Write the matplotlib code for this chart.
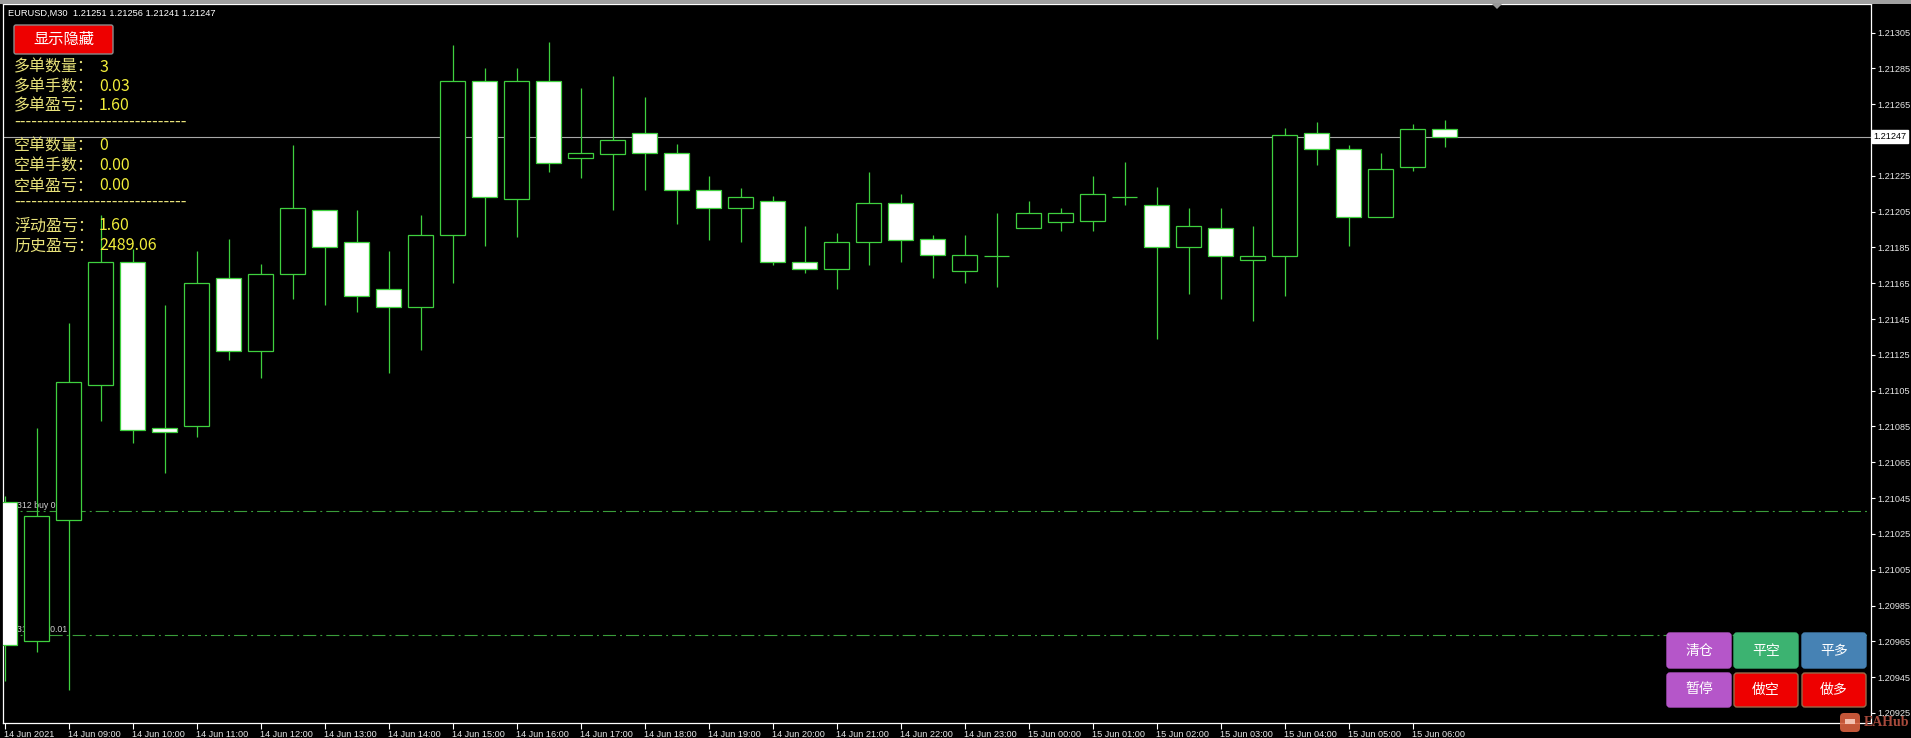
import matplotlib
matplotlib.use("Agg")
import matplotlib.pyplot as plt
import matplotlib.transforms as mtransforms
from matplotlib.patches import FancyBboxPatch, Rectangle, Polygon
import numpy as np

plt.rcParams['font.family'] = ['Liberation Sans', 'DejaVu Sans']
plt.rcParams['lines.scale_dashes'] = False

# ---------------- data ----------------
symbol_title = "EURUSD,M30  1.21251 1.21256 1.21241 1.21247"
opens = [1.21043, 1.20965, 1.21033, 1.21108, 1.21177, 1.21084, 1.21085, 1.21168, 1.21127, 1.21170,
         1.21206, 1.21188, 1.21162, 1.21152, 1.21192, 1.21278, 1.21212, 1.21278, 1.21235, 1.21237,
         1.21249, 1.21238, 1.21217, 1.21207, 1.21211, 1.21177, 1.21173, 1.21188, 1.21210, 1.21190,
         1.21172, 1.21180, 1.21196, 1.21199, 1.21200, 1.21213, 1.21209, 1.21185, 1.21196, 1.21178,
         1.21180, 1.21249, 1.21240, 1.21202, 1.21230, 1.21251]
highs = [1.21046, 1.21084, 1.21143, 1.21203, 1.21184, 1.21153, 1.21183, 1.21190, 1.21176, 1.21242,
         1.21206, 1.21206, 1.21183, 1.21203, 1.21298, 1.21285, 1.21285, 1.21300, 1.21274, 1.21281,
         1.21269, 1.21243, 1.21225, 1.21218, 1.21214, 1.21197, 1.21193, 1.21227, 1.21215, 1.21192,
         1.21192, 1.21204, 1.21211, 1.21207, 1.21225, 1.21233, 1.21219, 1.21207, 1.21207, 1.21197,
         1.21252, 1.21255, 1.21242, 1.21238, 1.21254, 1.21256]
lows = [1.20943, 1.20959, 1.20938, 1.21088, 1.21076, 1.21059, 1.21079, 1.21122, 1.21112, 1.21156,
        1.21153, 1.21149, 1.21115, 1.21128, 1.21165, 1.21186, 1.21191, 1.21227, 1.21224, 1.21206,
        1.21217, 1.21198, 1.21189, 1.21188, 1.21175, 1.21171, 1.21162, 1.21175, 1.21177, 1.21168,
        1.21165, 1.21163, 1.21196, 1.21194, 1.21194, 1.21209, 1.21134, 1.21159, 1.21156, 1.21144,
        1.21158, 1.21231, 1.21186, 1.21202, 1.21228, 1.21241]
closes = [1.20963, 1.21035, 1.21110, 1.21177, 1.21083, 1.21082, 1.21165, 1.21127, 1.21170, 1.21207,
          1.21185, 1.21158, 1.21152, 1.21192, 1.21278, 1.21213, 1.21278, 1.21232, 1.21238, 1.21245,
          1.21238, 1.21217, 1.21207, 1.21213, 1.21177, 1.21173, 1.21188, 1.21210, 1.21189, 1.21181,
          1.21181, 1.21180, 1.21204, 1.21204, 1.21215, 1.21213, 1.21185, 1.21197, 1.21180, 1.21180,
          1.21248, 1.21240, 1.21202, 1.21229, 1.21251, 1.21247]

x_tick_bars = list(range(0, 46, 2))
x_tick_labels = ["14 Jun 2021", "14 Jun 09:00", "14 Jun 10:00", "14 Jun 11:00", "14 Jun 12:00",
                 "14 Jun 13:00", "14 Jun 14:00", "14 Jun 15:00", "14 Jun 16:00", "14 Jun 17:00",
                 "14 Jun 18:00", "14 Jun 19:00", "14 Jun 20:00", "14 Jun 21:00", "14 Jun 22:00",
                 "14 Jun 23:00", "15 Jun 00:00", "15 Jun 01:00", "15 Jun 02:00", "15 Jun 03:00",
                 "15 Jun 04:00", "15 Jun 05:00", "15 Jun 06:00"]
y_ticks = [1.20925, 1.20945, 1.20965, 1.20985, 1.21005, 1.21025, 1.21045, 1.21065, 1.21085, 1.21105,
           1.21125, 1.21145, 1.21165, 1.21185, 1.21205, 1.21225, 1.21245, 1.21265, 1.21285, 1.21305]
bid_price = 1.21247
trade_prices = [1.21038, 1.209685]
trade_labels = ["312 buy 0.01", "311 buy 0.01"]

panel_labels = ["多单数量：", "多单手数：", "多单盈亏：", "空单数量：", "空单手数：", "空单盈亏：", "浮动盈亏：", "历史盈亏："]
panel_values = ["3", "0.03", "1.60", "0", "0.00", "0.00", "1.60", "2489.06"]
panel_separator = "------------------------------"
toggle_button = "显示隐藏"
buttons = [["清仓", "平空", "平多"], ["暂停", "做空", "做多"]]
button_colors = [["#b556c9", "#3cb371", "#4682b4"], ["#b556c9", "#ee0000", "#ee0000"]]

# ---------------- figure ----------------
W, H = 1911, 738
fig = plt.figure(figsize=(W / 100, H / 100), dpi=100, facecolor='black')
px = mtransforms.Affine2D().scale(1.0 / W, 1.0 / H) + fig.transFigure  # pixel coords, origin bottom-left

def Y(y):
    return H - y

ax = fig.add_axes([3 / W, (H - 723) / H, (1871 - 3) / W, (723 - 4) / H])
ax.set_facecolor('black')
ax.set_xlim((3 - 4.5) / 32, (1871 - 4.5) / 32)
ax.set_ylim(1.2091936, 1.2132103)

GREEN = '#3fd03f'
x = np.arange(len(opens))
o = np.array(opens); c = np.array(closes)
fills = ['white' if cc < oo else 'black' for oo, cc in zip(o, c)]

# bid line and trade lines (behind candles)
ax.axhline(bid_price, color='#a8a8a8', lw=0.8, zorder=1)
for tp, tl in zip(trade_prices, trade_labels):
    ax.axhline(tp, color='#3a9d3a', lw=0.8, linestyle=(0, (9.4, 2.9, 1.4, 2.9)), zorder=1)
    ax.text(0.38, tp + 0.000006, tl, fontsize=6.3, color='#d0d0d0', ha='left', va='bottom', zorder=2)

ax.vlines(x, lows, highs, colors=GREEN, lw=0.9, zorder=3)
ax.bar(x, c - o, bottom=o, width=0.76, color=fills, edgecolor=GREEN, linewidth=0.9, zorder=4)

# axes styling
for s in ax.spines.values():
    s.set_color('white'); s.set_linewidth(0.9)
ax.yaxis.tick_right()
ax.set_yticks(y_ticks)
# the 1.21245 label sits under the bid price box, so it is left blank
ax.set_yticklabels(["" if abs(v - 1.21245) < 1e-9 else f"{v:.5f}" for v in y_ticks])
ax.tick_params(axis='y', colors='white', labelcolor='#e6e6e6', length=3, width=0.8, pad=1.5, labelsize=6.6)
ax.set_xticks(x_tick_bars)
ax.set_xticklabels(x_tick_labels, ha='left')
ax.tick_params(axis='x', colors='white', labelcolor='#e6e6e6', length=4, width=0.8, pad=1.2, labelsize=6.6)

# bid price label on the axis
bt = mtransforms.blended_transform_factory(ax.transAxes, ax.transData)
ax.text(1.0012, bid_price, f"{bid_price:.5f}", transform=bt, fontsize=6.6, color='black',
        ha='left', va='center', zorder=10, clip_on=False,
        bbox=dict(facecolor='white', edgecolor='white', pad=1.2))

# window top band and shift marker
fig.patches.append(Rectangle((0, Y(3.5)), W, 3.5, transform=px, facecolor='#a0a0a0', edgecolor='none'))
fig.patches.append(Polygon([(1491, Y(3)), (1503, Y(3)), (1497, Y(9))], closed=True, transform=px,
                           facecolor='#9a9a9a', edgecolor='none'))

# title
fig.text(8, Y(13), symbol_title, transform=px, fontsize=6.7, color='white', va='center', ha='left')

# toggle button
fig.patches.append(FancyBboxPatch((14, Y(54)), 99, 29, boxstyle='round,pad=0,rounding_size=2', transform=px,
                                  facecolor='#ee0000', edgecolor='#8c8c8c', linewidth=1))
fig.text(63.5, Y(39.5), toggle_button, transform=px, fontsize=11, color='white', ha='center', va='center',
         family=['Noto Sans CJK SC', 'DejaVu Sans'])

# info panel
rows_y = [67, 86.5, 106, 146, 166, 186, 226, 246]
for lab, val, yy in zip(panel_labels, panel_values, rows_y):
    fig.text(14, Y(yy), lab, transform=px, fontsize=11.5, color='#e8e27a', ha='left', va='center',
             family=['Noto Sans CJK SC', 'DejaVu Sans'])
    fig.text(99, Y(yy), val, transform=px, fontsize=11.5, color='#f2ee3a', ha='left', va='center',
             family=['Noto Sans CJK SC', 'DejaVu Sans'])
for yy in [125, 205]:
    fig.text(14, Y(yy - 4), panel_separator, transform=px, fontsize=11.5, color='#e8e27a', ha='left',
             va='center', family=['DejaVu Sans'])

# trading buttons
col_x = [1667, 1734, 1802]
row_y = [(633, 668), (673, 707)]
for r in range(2):
    for k in range(3):
        x0 = col_x[k]; y0, y1 = row_y[r]
        ec = '#9a6a4a' if button_colors[r][k] == '#ee0000' else button_colors[r][k]
        fig.patches.append(FancyBboxPatch((x0, Y(y1)), 64, y1 - y0, boxstyle='round,pad=0,rounding_size=3',
                                          transform=px, facecolor=button_colors[r][k], edgecolor=ec, linewidth=1))
        fig.text(x0 + 32, Y((y0 + y1) / 2), buttons[r][k], transform=px, fontsize=10,
                 color='white', ha='center', va='center', family=['Noto Sans CJK SC', 'DejaVu Sans'])

# watermark
fig.patches.append(FancyBboxPatch((1840, Y(732)), 20, 19, boxstyle='round,pad=0,rounding_size=4', transform=px,
                                  facecolor='#d9603f', edgecolor='none', alpha=0.9, zorder=20))
fig.patches.append(Rectangle((1845, Y(724)), 10, 5, transform=px, facecolor='#f3c0b0', edgecolor='none', zorder=21))
fig.text(1864, Y(723), "EAHub", transform=px, fontsize=10, color='#a84a3c', ha='left', va='center',
         family=['Liberation Serif'], fontweight='bold', zorder=21)

fig.savefig('out.png', dpi=100, facecolor='black')
